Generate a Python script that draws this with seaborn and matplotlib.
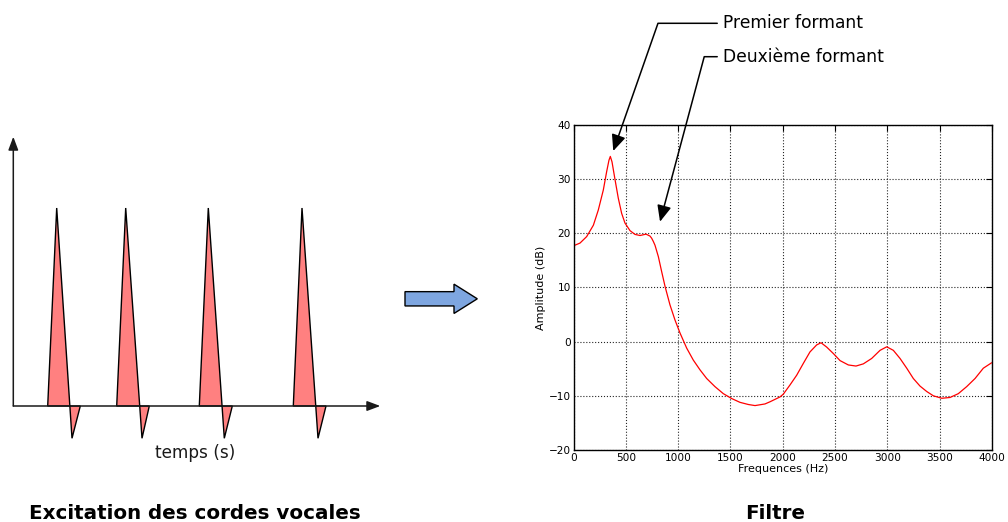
import matplotlib
matplotlib.use("Agg")
import matplotlib.pyplot as plt
from matplotlib.patches import FancyArrow
import seaborn as sns

# Vocal-tract filter response: frequency (Hz) and amplitude (dB)
freq_hz = [0, 62, 126, 190, 237, 285, 317, 339, 352, 368, 397, 428, 460, 492,
           540, 588, 636, 693, 731, 747, 763, 779, 811, 843, 875, 922, 970,
           1018, 1082, 1145, 1209, 1273, 1352, 1432, 1512, 1591, 1671, 1735,
           1830, 1878, 1910, 1974, 2005, 2069, 2133, 2197, 2260, 2324, 2366,
           2420, 2484, 2548, 2627, 2700, 2770, 2850, 2930, 2994, 3057, 3121,
           3185, 3248, 3312, 3376, 3440, 3520, 3599, 3678, 3758, 3838, 3917,
           3996]
amplitude_db = [17.7, 18.2, 19.4, 21.5, 24.3, 28.0, 31.4, 33.5, 34.2, 33.2,
                29.9, 26.5, 23.7, 21.9, 20.5, 19.8, 19.6, 19.85, 19.5, 19.1,
                18.5, 17.8, 15.7, 12.9, 10.2, 6.8, 4.0, 1.6, -1.2, -3.4, -5.2,
                -6.8, -8.3, -9.6, -10.5, -11.2, -11.6, -11.8, -11.5, -11.1,
                -10.8, -10.2, -9.7, -8.0, -6.2, -4.0, -1.9, -0.6, -0.2, -1.0,
                -2.2, -3.5, -4.3, -4.5, -4.1, -3.1, -1.6, -0.95, -1.6, -3.1,
                -4.9, -6.8, -8.2, -9.2, -10.0, -10.45, -10.3, -9.6, -8.3,
                -6.8, -4.9, -3.9]

x_ticks = [0, 500, 1000, 1500, 2000, 2500, 3000, 3500, 4000]
y_ticks = [-20, -10, 0, 10, 20, 30, 40]

# Glottal excitation: key instants (arbitrary time units) of each pulse
pulse_onset = [3.44, 10.34, 18.60, 28.00]
pulse_peak = [4.34, 11.24, 19.50, 28.87]
pulse_trough = [5.87, 12.87, 21.10, 30.47]
pulse_end = [6.70, 13.60, 21.90, 31.27]
peak_level = 1.0
trough_level = -0.163

sns.set_theme(style="white")
plt.rcParams["font.family"] = ["DejaVu Sans"]

W, H = 1008, 522
fig = plt.figure(figsize=(W / 100, H / 100), dpi=100)
fig.patch.set_facecolor("white")


def px_rect(x0, y0, x1, y1):
    """Axes rectangle from pixel bounds measured from the top-left corner."""
    return [x0 / W, 1 - y1 / H, (x1 - x0) / W, (y1 - y0) / H]


# Full-figure layer for the titles and the connecting arrow
ov = fig.add_axes([0, 0, 1, 1], zorder=0)
ov.set_xlim(0, W)
ov.set_ylim(H, 0)
ov.axis("off")
ov.add_patch(FancyArrow(405, 298.8, 72.3, 0, width=14.3, head_width=29.3,
                        head_length=23.3, length_includes_head=True,
                        fc="#7ea6e0", ec="black", lw=1.0, joinstyle="miter"))
ov.text(195, 519, "Excitation des cordes vocales", ha="center",
        va="baseline", fontsize=14.3, fontweight="bold", color="black")
ov.text(775, 519, "Filtre", ha="center", va="baseline", fontsize=14.3,
        fontweight="bold", color="black")
ov.text(195.5, 452.5, "temps (s)", ha="center", va="center", fontsize=12.2,
        color="#1a1a1a")

# Left panel: periodic glottal pulses
axl = fig.add_axes(px_rect(8.3, 118.9, 388.3, 465.4), zorder=1)
axl.set_xlim(-0.5, 37.5)
axl.set_ylim(-0.3, 1.45)
axl.axis("off")
for t0, tp, tt, t1 in zip(pulse_onset, pulse_peak, pulse_trough, pulse_end):
    axl.fill([t0, tp, tt, t1], [0, peak_level, trough_level, 0],
             fc="#ff8080", ec="black", lw=1.0, joinstyle="miter")
axis_arrow = dict(arrowstyle="-|>,head_length=0.8,head_width=0.3",
                  color="#1a1a1a", lw=1.1, shrinkA=0, shrinkB=0,
                  mutation_scale=10)
axl.annotate("", xy=(36.7, 0), xytext=(0, 0), arrowprops=axis_arrow)
axl.annotate("", xy=(0, 1.36), xytext=(0, 0), arrowprops=axis_arrow)

# Right panel: filter frequency response
axr = fig.add_axes(px_rect(573.5, 125, 992, 450), zorder=2)
sns.lineplot(x=freq_hz, y=amplitude_db, ax=axr, color="red", lw=0.9)
axr.set_xlim(0, 4000)
axr.set_ylim(-20, 40)
axr.set_xticks(x_ticks)
axr.set_yticks(y_ticks)
axr.grid(True, color="black", linestyle=(0, (1, 1.65)), lw=0.8, alpha=0.85)
axr.tick_params(direction="in", length=4, width=0.8, top=True, right=True,
                labelsize=7.6, pad=2, colors="black")
for sp in axr.spines.values():
    sp.set_visible(True)
    sp.set_color("black")
    sp.set_linewidth(1.0)
axr.set_xlabel("Frequences (Hz)", fontsize=8, labelpad=1, color="black")
axr.set_ylabel("Amplitude (dB)", fontsize=8, labelpad=2, color="black")

formant_arrow = dict(arrowstyle="-|>,head_length=0.8,head_width=0.35",
                     color="black", lw=1.1, shrinkB=0, relpos=(0, 0.5))
axr.annotate("Premier formant", xy=(380, 35.2), xycoords="data",
             xytext=(723.3, 28.3), textcoords=ov.transData,
             ha="left", va="baseline", fontsize=12.3, color="black",
             arrowprops=dict(formant_arrow,
                             connectionstyle="angle,angleA=0,angleB=70.7,rad=0"))
axr.annotate("Deuxième formant", xy=(827, 22.15), xycoords="data",
             xytext=(723.3, 61.7), textcoords=ov.transData,
             ha="left", va="baseline", fontsize=12.3, color="black",
             arrowprops=dict(formant_arrow,
                             connectionstyle="angle,angleA=0,angleB=75,rad=0"))

fig.savefig("out.png", dpi=100, facecolor="white")
